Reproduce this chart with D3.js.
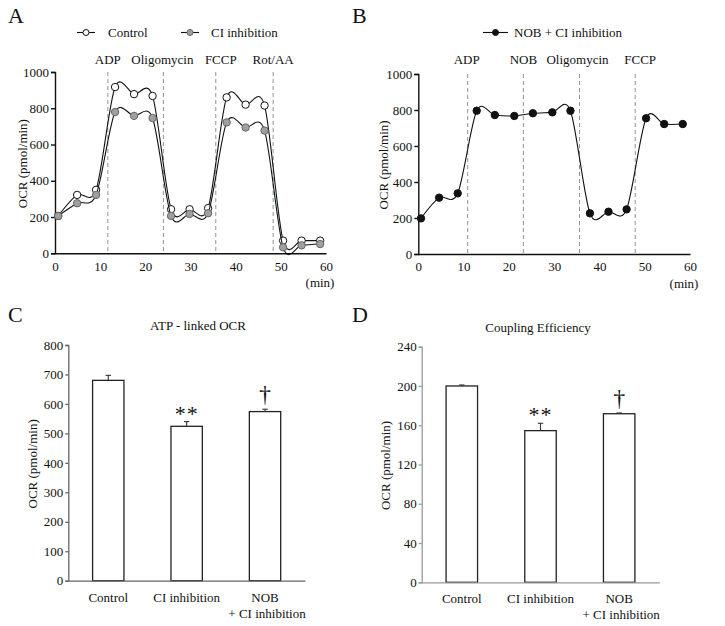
<!DOCTYPE html>
<html>
<head>
<meta charset="utf-8">
<script src="https://cdn.jsdelivr.net/npm/d3@7"></script>
<style>
  html, body { margin: 0; padding: 0; background: #fff; }
  svg { display: block; }
  text { font-family: "Liberation Serif", "Times New Roman", serif; fill: #111; }
</style>
</head>
<body>
<svg id="chart" width="725" height="626"></svg>
<script>
// ---------------- DATA ----------------
const timesA = [0.7, 4.9, 9.1, 13.3, 17.5, 21.6, 25.7, 29.8, 33.9, 38.0, 42.2, 46.4, 50.5, 54.6, 58.7];
const controlA = [206, 322, 350, 917, 878, 868, 243, 243, 249, 860, 820, 815, 70, 70, 70];
const ciA = [206, 276, 322, 779, 758, 746, 206, 217, 221, 722, 694, 677, 33, 44, 51];
const injectionsA = [11.7, 24.0, 35.6, 48.3];
const injectionLabelsA = ["ADP", "Oligomycin", "FCCP", "Rot/AA"];

const timesB = [0.6, 4.6, 8.7, 12.9, 16.9, 21.2, 25.3, 29.6, 33.6, 37.9, 42.0, 46.0, 50.3, 54.3, 58.4];
const nobB = [198, 313, 337, 796, 772, 767, 782, 787, 796, 226, 235, 248, 754, 722, 722];
const injectionsB = [10.9, 23.2, 35.6, 47.9];
const injectionLabelsB = ["ADP", "NOB", "Oligomycin", "FCCP"];

const timeTicks = [0, 10, 20, 30, 40, 50, 60];
const ocrTicks = [0, 200, 400, 600, 800, 1000];

const groups = ["Control", "CI inhibition", "NOB + CI inhibition"];
const groupLabelLines = [["Control"], ["CI inhibition"], ["NOB", "+ CI inhibition"]];
const atpMean = [680, 524, 574];
const atpErr = [17, 16, 8];
const atpTicks = [0, 100, 200, 300, 400, 500, 600, 700, 800];
const couplingMean = [200, 154.5, 171.7];
const couplingErr = [1, 7.5, 0.8];
const couplingTicks = [0, 40, 80, 120, 160, 200, 240];
const significance = ["", "**", "\u2020"];

// ---------------- DRAW ----------------
const svg = d3.select("#chart");
const FONT = 13;
const fmt = d3.format("d");

function panelLetter(x, y, t) {
  svg.append("text").attr("x", x).attr("y", y).attr("font-size", 22).text(t);
}

function yLabel(cx, cy) {
  svg.append("text")
    .attr("transform", `translate(${cx},${cy}) rotate(-90)`)
    .attr("text-anchor", "middle").attr("dominant-baseline", "central")
    .attr("font-size", FONT).text("OCR (pmol/min)");
}

function styleAxis(g, color, width) {
  g.attr("font-family", null).attr("font-size", null);
  g.selectAll("path.domain").attr("stroke", color).attr("stroke-width", width);
  g.selectAll(".tick line").attr("stroke", color).attr("stroke-width", width);
  g.selectAll(".tick text").attr("font-size", FONT).attr("fill", "#111");
}

function timeCourse(opt) {
  const x = d3.scaleLinear().domain([0, 60]).range(opt.xr);
  const y = d3.scaleLinear().domain([0, 1000]).range(opt.yr);

  // injection dashed lines
  svg.append("g").selectAll("line").data(opt.inj).join("line")
    .attr("x1", d => x(d)).attr("x2", d => x(d))
    .attr("y1", y(1000)).attr("y2", y(0))
    .attr("stroke", "#8a93a8").attr("stroke-width", 1)
    .attr("stroke-dasharray", "4,3");
  svg.append("g").selectAll("text").data(opt.injLabels).join("text")
    .attr("x", (d, i) => x(opt.inj[i]) + (opt.labelDx[i] || 0))
    .attr("y", 64).attr("text-anchor", "middle").attr("font-size", FONT)
    .text(d => d);

  // axes
  const gx = svg.append("g").attr("transform", `translate(0,${y(0)})`)
    .call(d3.axisBottom(x).tickValues(timeTicks).tickFormat(fmt).tickSize(0).tickPadding(8));
  styleAxis(gx, "#111", 1.4);
  const gy = svg.append("g").attr("transform", `translate(${x(0)},0)`)
    .call(d3.axisLeft(y).tickValues(ocrTicks).tickFormat(fmt).tickSize(4).tickPadding(2));
  styleAxis(gy, "#111", 1.4);
  svg.append("text").attr("x", x(60) - 6).attr("y", y(0) + 34)
    .attr("text-anchor", "middle").attr("font-size", FONT).text("(min)");

  yLabel(opt.ylabX, (y(0) + y(1000)) / 2 + 1);

  const line = d3.line().x(d => x(d[0])).y(d => y(d[1])).curve(d3.curveCardinal.tension(0.1));
  opt.series.forEach(s => {
    const pts = s.times.map((t, i) => [t, s.values[i]]);
    svg.append("path").datum(pts).attr("d", line)
      .attr("fill", "none").attr("stroke", "#111").attr("stroke-width", 1.1);
    svg.append("g").selectAll("circle").data(pts).join("circle")
      .attr("cx", d => x(d[0])).attr("cy", d => y(d[1])).attr("r", 3.7)
      .attr("fill", s.fill).attr("stroke", s.stroke).attr("stroke-width", 1);
  });
}

function legendItem(x1, x2, cy, fill, stroke, label, textX) {
  svg.append("line").attr("x1", x1).attr("x2", x2).attr("y1", cy).attr("y2", cy)
    .attr("stroke", "#111").attr("stroke-width", 1.1);
  svg.append("circle").attr("cx", (x1 + x2) / 2).attr("cy", cy).attr("r", 3)
    .attr("fill", fill).attr("stroke", stroke).attr("stroke-width", 1);
  svg.append("text").attr("x", textX).attr("y", cy).attr("dominant-baseline", "central")
    .attr("font-size", FONT).text(label);
}

// Panel A
panelLetter(8, 23, "A");
legendItem(77, 95, 32.5, "#fff", "#111", "Control", 108);
legendItem(181, 199, 32.5, "#a0a0a0", "#666", "CI inhibition", 211);
timeCourse({
  xr: [55, 326], yr: [253.3, 72], ylabX: 22,
  inj: injectionsA, injLabels: injectionLabelsA, labelDx: [0, -1, 5, 0],
  series: [
    { times: timesA, values: controlA, fill: "#fff", stroke: "#111" },
    { times: timesA, values: ciA, fill: "#a0a0a0", stroke: "#666" }
  ]
});

// Panel B
panelLetter(352, 23, "B");
legendItem(483, 508, 32.5, "#111", "#111", "NOB + CI inhibition", 514);
timeCourse({
  xr: [418.3, 690], yr: [254, 74], ylabX: 383,
  inj: injectionsB, injLabels: injectionLabelsB, labelDx: [-1, 0, -2, 5],
  series: [
    { times: timesB, values: nobB, fill: "#111", stroke: "#111" }
  ]
});

function barPanel(opt) {
  const x = d3.scaleBand().domain(groups).range(opt.xr).paddingInner(0.6).paddingOuter(0.31);
  const y = d3.scaleLinear().domain([0, opt.max]).range(opt.yr);

  svg.append("text").attr("x", opt.titleX).attr("y", opt.yr[1] - 15)
    .attr("text-anchor", "middle").attr("font-size", FONT).text(opt.title);

  const gy = svg.append("g").attr("transform", `translate(${opt.xr[0]},0)`)
    .call(d3.axisLeft(y).tickValues(opt.ticks).tickFormat(fmt).tickSize(3).tickPadding(2));
  styleAxis(gy, opt.axisColor, 1.3);

  svg.append("g").selectAll("rect").data(opt.mean).join("rect")
    .attr("x", (d, i) => x(groups[i])).attr("width", x.bandwidth())
    .attr("y", d => y(d)).attr("height", d => y(0) - y(d))
    .attr("fill", "#fff").attr("stroke", "#222").attr("stroke-width", 1.3);

  // error bars (upper)
  const eg = svg.append("g").attr("stroke", "#333").attr("stroke-width", 1.1);
  opt.mean.forEach((m, i) => {
    const cx = x(groups[i]) + x.bandwidth() / 2;
    eg.append("line").attr("x1", cx).attr("x2", cx).attr("y1", y(m)).attr("y2", y(m + opt.err[i]));
    eg.append("line").attr("x1", cx - 2.7).attr("x2", cx + 2.7)
      .attr("y1", y(m + opt.err[i])).attr("y2", y(m + opt.err[i]));
  });

  const gx = svg.append("g").attr("transform", `translate(0,${y(0)})`)
    .call(d3.axisBottom(x).tickSize(0).tickFormat(""));
  styleAxis(gx, opt.axisColor, 1.3);

  // category labels
  groupLabelLines.forEach((lines, i) => {
    const cx = x(groups[i]) + x.bandwidth() / 2;
    lines.forEach((ln, j) => {
      svg.append("text").attr("x", cx + (j > 0 ? 2 : 0)).attr("y", y(0) + 21 + j * 16)
        .attr("text-anchor", "middle").attr("font-size", FONT).text(ln);
    });
  });

  // significance marks
  significance.forEach((s, i) => {
    if (!s) return;
    const cx = x(groups[i]) + x.bandwidth() / 2;
    const top = y(opt.mean[i] + opt.err[i]);
    if (s === "**") {
      svg.append("text").attr("x", cx).attr("y", top - 1)
        .attr("text-anchor", "middle").attr("font-size", 22).attr("letter-spacing", 1).text(s);
    } else {
      svg.append("text").attr("x", cx).attr("y", top - 7)
        .attr("text-anchor", "middle").attr("font-size", 24).text(s);
    }
  });

  yLabel(opt.ylabX, (y(0) + y(opt.max)) / 2 + 1);
}

panelLetter(8, 322, "C");
barPanel({
  xr: [68.3, 305], yr: [580.7, 345], max: 800, ticks: atpTicks,
  mean: atpMean, err: atpErr, title: "ATP - linked OCR", titleX: 198,
  axisColor: "#666", ylabX: 32
});

panelLetter(352, 322, "D");
barPanel({
  xr: [421.7, 659.3], yr: [582.3, 346.7], max: 240, ticks: couplingTicks,
  mean: couplingMean, err: couplingErr, title: "Coupling Efficiency", titleX: 538,
  axisColor: "#999", ylabX: 385
});
</script>
</body>
</html>
